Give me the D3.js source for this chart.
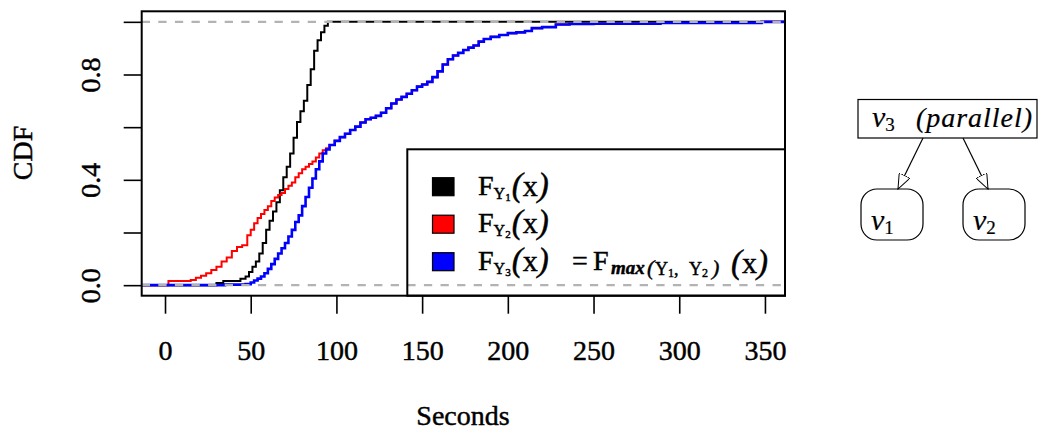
<!DOCTYPE html>
<html>
<head>
<meta charset="utf-8">
<script src="https://cdnjs.cloudflare.com/ajax/libs/d3/7.8.5/d3.min.js"></script>
<style>
  body { margin: 0; background: #fff; }
  svg { display: block; }
  text { font-family: "Liberation Serif", "Times New Roman", serif; fill: #000; stroke: #000; stroke-width: 0.45px; }
</style>
</head>
<body>
<svg id="chart" width="1040" height="431"></svg>
<script>
// ---- data (seconds, cdf) ----
var y1Sec = [30, 34, 44, 47, 49, 51, 53, 55, 57, 59, 61, 63, 65, 67, 69, 71, 73, 75, 77, 79, 81, 83, 85, 87, 89, 91, 93, 95];
var y1Cdf = [0.008, 0.016, 0.024, 0.033, 0.05, 0.07, 0.09, 0.12, 0.16, 0.21, 0.245, 0.28, 0.315, 0.36, 0.41, 0.45, 0.5, 0.56, 0.62, 0.66, 0.7, 0.76, 0.82, 0.89, 0.93, 0.96, 0.985, 1.0];

var y2Sec = [2, 15, 18, 21, 24, 27, 30, 33, 36, 39, 42, 45, 48, 50, 52, 54, 56, 58, 60, 62, 64, 66, 68, 70, 72, 74, 76, 78, 80, 82, 84, 86, 88, 90, 92, 94];
var y2Cdf = [0.016, 0.02, 0.028, 0.036, 0.045, 0.058, 0.07, 0.09, 0.105, 0.13, 0.145, 0.152, 0.19, 0.21, 0.235, 0.255, 0.27, 0.285, 0.3, 0.32, 0.333, 0.342, 0.35, 0.365, 0.378, 0.39, 0.41, 0.425, 0.44, 0.45, 0.46, 0.47, 0.485, 0.5, 0.512, 0.52];

var y3Sec = [35, 47, 50, 52, 54, 56, 58, 60, 62, 64, 66, 68, 70, 72, 74, 76, 78, 80, 82, 84, 86, 88, 90, 92, 94];
var y3Cdf = [0.002, 0.004, 0.01, 0.018, 0.025, 0.033, 0.045, 0.062, 0.08, 0.1, 0.12, 0.14, 0.16, 0.185, 0.21, 0.24, 0.265, 0.3, 0.335, 0.37, 0.405, 0.44, 0.47, 0.5, 0.515];

// above ~95 s the red and blue curves lie on top of each other
var tailSec = [96, 99, 102, 105, 108, 111, 114, 117, 120, 123, 126, 129, 132, 135, 138, 141, 144, 147, 150, 153, 156, 159, 162, 165, 168, 171, 174, 177, 180, 183, 186, 190, 195, 200, 205, 210, 214, 220, 228, 236, 250, 289, 348];
var tailCdf = [0.532, 0.548, 0.562, 0.575, 0.589, 0.602, 0.618, 0.63, 0.636, 0.643, 0.655, 0.672, 0.69, 0.705, 0.715, 0.727, 0.74, 0.754, 0.762, 0.772, 0.79, 0.812, 0.838, 0.858, 0.872, 0.882, 0.893, 0.902, 0.91, 0.925, 0.935, 0.943, 0.95, 0.957, 0.96, 0.965, 0.976, 0.98, 0.99, 0.992, 0.993, 0.996, 1.0];

var xTicks = [0, 50, 100, 150, 200, 250, 300, 350];
var yTicks = [0, 0.2, 0.4, 0.6, 0.8, 1.0];
var yTickLabels = ["0.0", "", "0.4", "", "0.8", ""];
var seriesColors = ["#000000", "#ff0000", "#0000ff"];
var seriesIdx = ["1", "2", "3"];

// ---- layout ----
var svg = d3.select("#chart");
var pLeft = 141.7, pRight = 785, pTop = 11.3, pBottom = 295.7;

var x = d3.scaleLinear().domain([-13.6, 361.7]).range([pLeft, pRight]);
var y = d3.scaleLinear().domain([-0.04, 1.04]).range([pBottom, pTop]);

function zip(a, b) { return a.map(function(d, i) { return [d, b[i]]; }); }
function ecdfPts(sec, cdf) {
  var pts = [[x.domain()[0], 0]].concat(zip(sec, cdf));
  pts.push([x.domain()[1], cdf[cdf.length - 1]]);
  return pts;
}

var series = [
  ecdfPts(y1Sec, y1Cdf),
  ecdfPts(y2Sec.concat(tailSec), y2Cdf.concat(tailCdf)),
  ecdfPts(y3Sec.concat(tailSec), y3Cdf.concat(tailCdf))
];

svg.append("clipPath").attr("id", "plotclip")
  .append("rect").attr("x", pLeft).attr("y", pTop).attr("width", pRight - pLeft).attr("height", pBottom - pTop);

var line = d3.line()
  .x(function(d) { return x(d[0]); })
  .y(function(d) { return y(d[1]); })
  .curve(d3.curveStepAfter);

var plot = svg.append("g").attr("clip-path", "url(#plotclip)");
plot.selectAll("path.cdf")
  .data(series)
  .enter()
  .append("path")
  .attr("class", "cdf")
  .attr("d", line)
  .attr("fill", "none")
  .attr("stroke", function(d, i) { return seriesColors[i]; })
  .attr("stroke-width", function(d, i) { return i == 2 ? 2.6 : 2; });

// gray dashed 0 and 1 lines
plot.selectAll("line.ref")
  .data([0, 1])
  .enter()
  .append("line")
  .attr("x1", pLeft).attr("x2", pRight)
  .attr("y1", function(d) { return y(d); })
  .attr("y2", function(d) { return y(d); })
  .attr("stroke", "#b3b3b3")
  .attr("stroke-width", 2.4)
  .attr("stroke-dasharray", "8.3,8.3");

// box
svg.append("rect")
  .attr("x", pLeft).attr("y", pTop)
  .attr("width", pRight - pLeft).attr("height", pBottom - pTop)
  .attr("fill", "none").attr("stroke", "#000").attr("stroke-width", 2);

// x axis
var xAxis = svg.append("g")
  .attr("transform", "translate(0," + pBottom + ")")
  .call(d3.axisBottom(x).tickValues(xTicks).tickSize(18).tickPadding(26).tickFormat(d3.format("d")));
xAxis.select(".domain").remove();
xAxis.selectAll(".tick line").attr("stroke", "#000").attr("stroke-width", 1.6);
xAxis.selectAll(".tick text").attr("font-size", 28).attr("font-family", "Liberation Serif");

// y axis
var yAxis = svg.append("g")
  .attr("transform", "translate(" + pLeft + ",0)")
  .call(d3.axisLeft(y).tickValues(yTicks).tickSize(18).tickFormat(function(d, i) { return yTickLabels[i]; }));
yAxis.select(".domain").remove();
yAxis.selectAll(".tick line").attr("stroke", "#000").attr("stroke-width", 1.6);
yAxis.selectAll(".tick text")
  .attr("x", null).attr("dy", null)
  .attr("font-size", 28).attr("font-family", "Liberation Serif")
  .attr("text-anchor", "middle")
  .attr("dominant-baseline", "central")
  .attr("transform", "translate(-51,0) rotate(-90)");

// axis titles
svg.append("text").attr("x", 463).attr("y", 425)
  .attr("text-anchor", "middle").attr("font-size", 28).text("Seconds");
svg.append("text")
  .attr("transform", "translate(22,153) rotate(-90)")
  .attr("text-anchor", "middle").attr("dominant-baseline", "central")
  .attr("font-size", 28).text("CDF");

// ---- legend ----
var leg = svg.append("g");
leg.append("rect")
  .attr("x", 407.3).attr("y", 149.3).attr("width", pRight - 407.3).attr("height", pBottom - 149.3)
  .attr("fill", "none").attr("stroke", "#000").attr("stroke-width", 2);

var rowY = [186.7, 224.2, 261.7];
seriesIdx.forEach(function(idx, i) {
  leg.append("rect")
    .attr("x", 432.5).attr("y", rowY[i] - 9).attr("width", 21.5).attr("height", 18)
    .attr("fill", seriesColors[i]).attr("stroke", "#000").attr("stroke-width", 1.2);

  var b = rowY[i] + 8;
  var t = leg.append("text").attr("x", 478).attr("y", b);
  t.append("tspan").attr("font-size", 28).text("F");
  t.append("tspan").attr("font-size", 16).attr("dy", 4).text("Y");
  t.append("tspan").attr("font-size", 11).attr("dy", 2).text(idx);
  t.append("tspan").attr("font-size", 33).attr("font-style", "italic").attr("dy", -5).attr("dx", 1).text("(");
  t.append("tspan").attr("font-size", 30).text("x");
  t.append("tspan").attr("font-size", 33).attr("font-style", "italic").text(")");

  if (i == 2) {
    t.append("tspan").attr("font-size", 28).attr("x", 572).attr("y", b).text("=");
    t.append("tspan").attr("font-size", 28).attr("x", 593).attr("y", b).text("F");
    t.append("tspan").attr("font-size", 19).attr("font-weight", "bold").attr("font-style", "italic")
      .attr("x", 611).attr("y", b + 4).text("max");
    t.append("tspan").attr("font-size", 22).attr("font-style", "italic").attr("x", 647).attr("y", b + 5).text("(");
    t.append("tspan").attr("font-size", 18).attr("x", 655).attr("y", b + 5).text("Y");
    t.append("tspan").attr("font-size", 12).attr("y", b + 7).text("1");
    t.append("tspan").attr("font-size", 18).attr("y", b + 5).text(",");
    t.append("tspan").attr("font-size", 18).attr("x", 689).attr("y", b + 5).text("Y");
    t.append("tspan").attr("font-size", 12).attr("y", b + 7).text("2");
    t.append("tspan").attr("font-size", 22).attr("font-style", "italic").attr("x", 712).attr("y", b + 5).text(")");
    t.append("tspan").attr("font-size", 33).attr("font-style", "italic").attr("x", 731).attr("y", b + 3).text("(");
    t.append("tspan").attr("font-size", 30).text("x");
    t.append("tspan").attr("font-size", 33).attr("font-style", "italic").text(")");
  }
});

// ---- little tree on the right ----
var tree = svg.append("g");
var defs = svg.append("defs");
defs.append("marker").attr("id", "openarrow")
  .attr("viewBox", "0 0 16 12").attr("refX", 15).attr("refY", 6)
  .attr("markerWidth", 16).attr("markerHeight", 12).attr("markerUnits", "userSpaceOnUse")
  .attr("orient", "auto")
  .append("path").attr("d", "M0,0 L15,6 L0,12 Z")
  .attr("fill", "#fff").attr("stroke", "#000").attr("stroke-width", 1);

tree.append("rect").attr("x", 858).attr("y", 99.5).attr("width", 179).attr("height", 38.5)
  .attr("fill", "#fff").attr("stroke", "#000").attr("stroke-width", 1.2);
var rt = tree.append("text").attr("x", 872).attr("y", 127).attr("font-style", "italic").style("stroke-width", "0.2px");
rt.append("tspan").attr("font-size", 30).text("v");
rt.append("tspan").attr("font-size", 19).attr("font-style", "normal").attr("dy", 4).text("3");
rt.append("tspan").attr("font-size", 28).attr("x", 916).attr("y", 127)
  .attr("textLength", 116).attr("lengthAdjust", "spacing").text("(parallel)");

[[923, 138, 898, 189], [963, 138, 988, 189]].forEach(function(a) {
  tree.append("line").attr("x1", a[0]).attr("y1", a[1]).attr("x2", a[2]).attr("y2", a[3])
    .attr("stroke", "#000").attr("stroke-width", 1.2).attr("marker-end", "url(#openarrow)");
});

[["1", 861], ["2", 963]].forEach(function(n) {
  tree.append("rect").attr("x", n[1]).attr("y", 189).attr("width", 62).attr("height", 51)
    .attr("rx", 16).attr("ry", 16)
    .attr("fill", "none").attr("stroke", "#000").attr("stroke-width", 1.2);
  var nt = tree.append("text").attr("x", n[1] + 10).attr("y", 230).attr("font-style", "italic").style("stroke-width", "0.2px");
  nt.append("tspan").attr("font-size", 30).text("v");
  nt.append("tspan").attr("font-size", 19).attr("font-style", "normal").attr("dy", 4).text(n[0]);
});
</script>
</body>
</html>
